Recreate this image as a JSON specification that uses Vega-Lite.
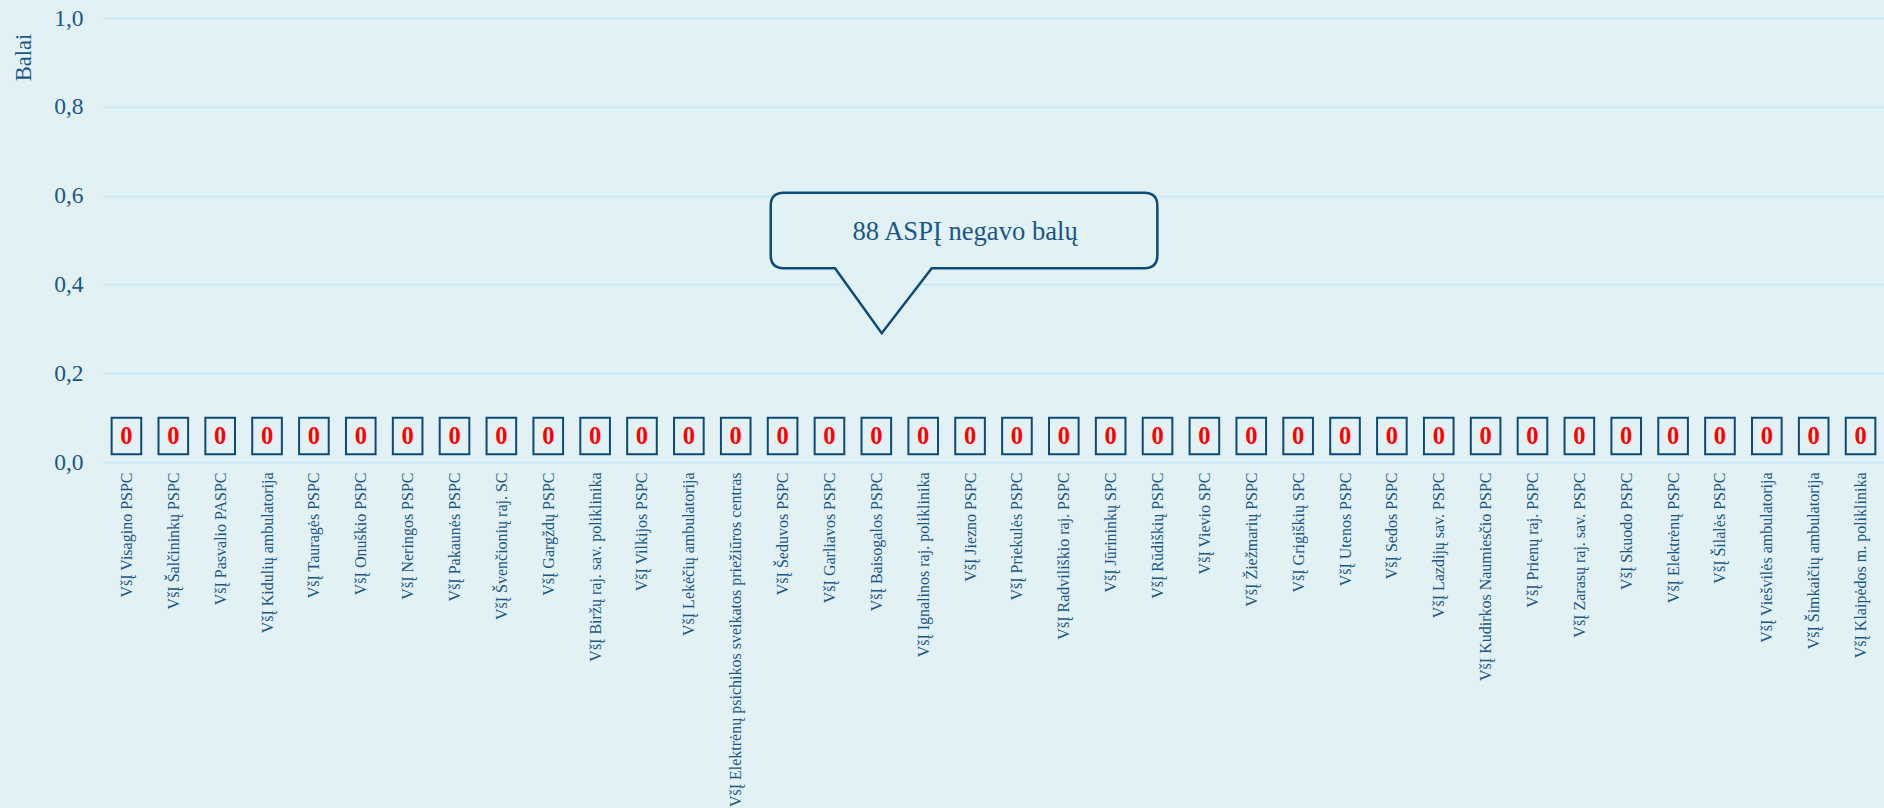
{
  "$schema": "https://vega.github.io/schema/vega-lite/v6.json",
  "width": 1781,
  "height": 444,
  "autosize": {"type": "none"},
  "padding": {"left": 103, "top": 18, "right": 0, "bottom": 346},
  "background": "#E2F2F4",
  "config": {"view": {"stroke": null}, "font": "Liberation Serif"},
  "data": {
    "values": [
      {"org": "VšĮ Visagino PSPC", "balai": 0},
      {"org": "VšĮ Šalčininkų PSPC", "balai": 0},
      {"org": "VšĮ Pasvalio PASPC", "balai": 0},
      {"org": "VšĮ Kidulių ambulatorija", "balai": 0},
      {"org": "VšĮ Tauragės PSPC", "balai": 0},
      {"org": "VšĮ Onuškio PSPC", "balai": 0},
      {"org": "VšĮ Neringos PSPC", "balai": 0},
      {"org": "VšĮ Pakaunės PSPC", "balai": 0},
      {"org": "VšĮ Švenčionių raj. SC", "balai": 0},
      {"org": "VšĮ Gargždų PSPC", "balai": 0},
      {"org": "VšĮ Biržų raj. sav. poliklinika", "balai": 0},
      {"org": "VšĮ Vilkijos PSPC", "balai": 0},
      {"org": "VšĮ Lekėčių ambulatorija", "balai": 0},
      {"org": "VšĮ Elektrėnų psichikos sveikatos priežiūros centras", "balai": 0},
      {"org": "VšĮ Šeduvos PSPC", "balai": 0},
      {"org": "VšĮ Garliavos PSPC", "balai": 0},
      {"org": "VšĮ Baisogalos PSPC", "balai": 0},
      {"org": "VšĮ Ignalinos raj. poliklinika", "balai": 0},
      {"org": "VšĮ Jiezno PSPC", "balai": 0},
      {"org": "VšĮ Priekulės PSPC", "balai": 0},
      {"org": "VšĮ Radviliškio raj. PSPC", "balai": 0},
      {"org": "VšĮ Jūrininkų SPC", "balai": 0},
      {"org": "VšĮ Rūdiškių PSPC", "balai": 0},
      {"org": "VšĮ Vievio SPC", "balai": 0},
      {"org": "VšĮ Žiežmarių PSPC", "balai": 0},
      {"org": "VšĮ Grigiškių SPC", "balai": 0},
      {"org": "VšĮ Utenos PSPC", "balai": 0},
      {"org": "VšĮ Sedos PSPC", "balai": 0},
      {"org": "VšĮ Lazdijų sav. PSPC", "balai": 0},
      {"org": "VšĮ Kudirkos Naumiesčio PSPC", "balai": 0},
      {"org": "VšĮ Prienų raj. PSPC", "balai": 0},
      {"org": "VšĮ Zarasų raj. sav. PSPC", "balai": 0},
      {"org": "VšĮ Skuodo PSPC", "balai": 0},
      {"org": "VšĮ Elektrėnų PSPC", "balai": 0},
      {"org": "VšĮ Šilalės PSPC", "balai": 0},
      {"org": "VšĮ Viešvilės ambulatorija", "balai": 0},
      {"org": "VšĮ Šimkaičių ambulatorija", "balai": 0},
      {"org": "VšĮ Klaipėdos m. poliklinika", "balai": 0}
    ]
  },
  "encoding": {
    "x": {
      "field": "org",
      "type": "nominal",
      "sort": null,
      "axis": {
        "title": null,
        "domain": false,
        "ticks": false,
        "grid": false,
        "labelAngle": -90,
        "labelFontSize": 16,
        "labelFont": "Liberation Serif",
        "labelColor": "#1A5689",
        "labelPadding": 10,
        "labelLimit": 600
      }
    },
    "y": {
      "field": "balai",
      "type": "quantitative",
      "scale": {"domain": [0, 1], "nice": false},
      "axis": {
        "values": [0, 0.2, 0.4, 0.6, 0.8, 1],
        "labelExpr": "replace(format(datum.value, '.1f'), '.', ',')",
        "grid": true,
        "gridColor": "#C9E7F8",
        "gridWidth": 2,
        "domain": false,
        "ticks": false,
        "labelFontSize": 23.5,
        "labelFont": "Liberation Serif",
        "labelColor": "#1A5689",
        "labelPadding": 20,
        "title": "Balai",
        "titleFont": "Liberation Serif",
        "titleFontSize": 22.5,
        "titleFontWeight": "normal",
        "titleColor": "#1A5689",
        "titleAngle": -90,
        "titleX": -80,
        "titleY": 39,
        "titleAlign": "center",
        "titleBaseline": "middle"
      }
    }
  },
  "layer": [
    {
      "mark": {
        "type": "point",
        "shape": "M-0.807,-2.417L0.807,-2.417L0.807,-0.417L-0.807,-0.417Z",
        "size": 1347,
        "filled": true,
        "fill": "#E2F2F4",
        "stroke": "#0E4A78",
        "strokeWidth": 2,
        "opacity": 1
      }
    },
    {
      "mark": {
        "type": "text",
        "dy": -25,
        "baseline": "middle",
        "align": "center",
        "color": "#FF0000",
        "fontSize": 24.5,
        "fontWeight": "bold",
        "font": "Liberation Serif"
      },
      "encoding": {"text": {"field": "balai", "type": "quantitative"}}
    },
    {
      "transform": [{"filter": "datum.org === 'VšĮ Baisogalos PSPC'"}],
      "mark": {
        "type": "point",
        "shape": "M-9.26,-14.05L26.8,-14.05Q28.1,-14.05 28.1,-12.75L28.1,-7.79Q28.1,-6.49 26.8,-6.49L5.54,-6.49L0.54,0L-4.13,-6.49L-9.26,-6.49Q-10.56,-6.49 -10.56,-7.79L-10.56,-12.75Q-10.56,-14.05 -9.26,-14.05Z",
        "size": 400,
        "filled": true,
        "fill": "#E2F2F4",
        "stroke": "#0E4A78",
        "strokeWidth": 2.5,
        "opacity": 1
      },
      "encoding": {"y": {"datum": 0.29}}
    },
    {
      "transform": [{"filter": "datum.org === 'VšĮ Baisogalos PSPC'"}],
      "mark": {
        "type": "text",
        "text": "88 ASPĮ negavo balų",
        "dx": 88.7,
        "dy": -93,
        "align": "center",
        "baseline": "alphabetic",
        "fontSize": 26.6,
        "font": "Liberation Serif",
        "color": "#1A5689"
      },
      "encoding": {"y": {"datum": 0.29}}
    }
  ]
}
